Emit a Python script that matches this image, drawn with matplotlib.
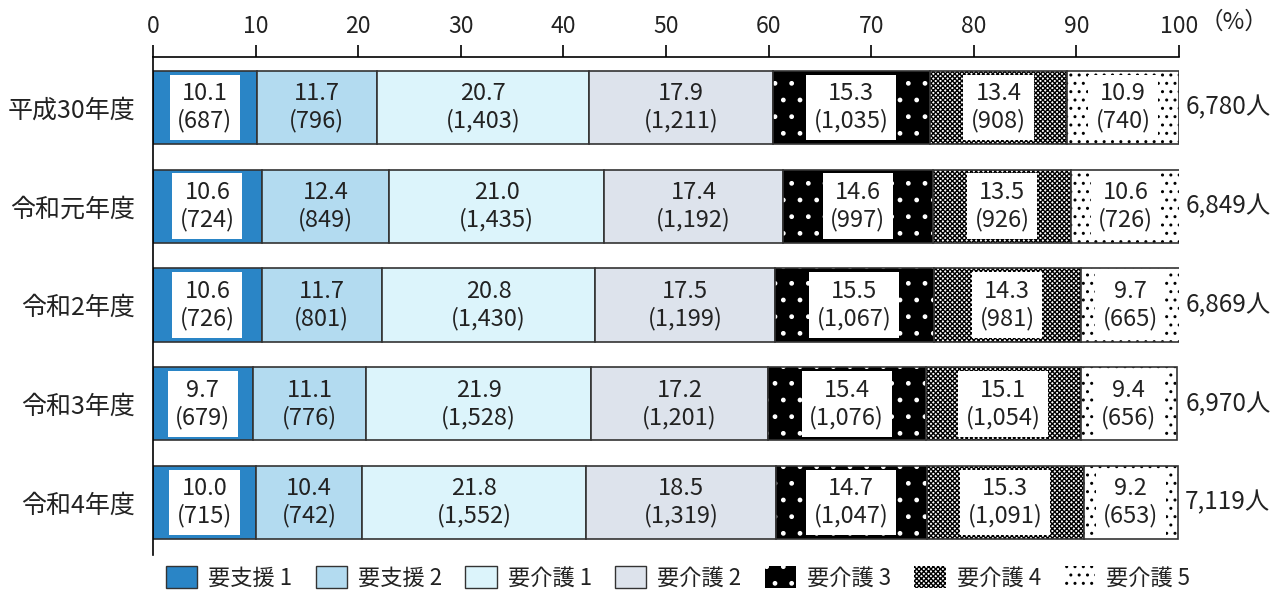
import matplotlib
matplotlib.use("Agg")
import matplotlib.pyplot as plt
from matplotlib.patches import Patch

plt.rcParams['font.family'] = ['Noto Sans CJK JP', 'DejaVu Sans']
plt.rcParams['hatch.linewidth'] = 1.0

years = ["平成30年度", "令和元年度", "令和2年度", "令和3年度", "令和4年度"]
levels = ["要支援 1", "要支援 2", "要介護 1", "要介護 2", "要介護 3", "要介護 4", "要介護 5"]

pct = [
    [10.1, 11.7, 20.7, 17.9, 15.3, 13.4, 10.9],
    [10.6, 12.4, 21.0, 17.4, 14.6, 13.5, 10.6],
    [10.6, 11.7, 20.8, 17.5, 15.5, 14.3, 9.7],
    [9.7, 11.1, 21.9, 17.2, 15.4, 15.1, 9.4],
    [10.0, 10.4, 21.8, 18.5, 14.7, 15.3, 9.2],
]
counts = [
    [687, 796, 1403, 1211, 1035, 908, 740],
    [724, 849, 1435, 1192, 997, 926, 726],
    [726, 801, 1430, 1199, 1067, 981, 665],
    [679, 776, 1528, 1201, 1076, 1054, 656],
    [715, 742, 1552, 1319, 1047, 1091, 653],
]
totals = [6780, 6849, 6869, 6970, 7119]

# fill, hatch colour, hatch pattern, white label box
styles = [
    dict(face="#2a85c6", hcol=None, hatch=None, box=True),
    dict(face="#b3dbf0", hcol=None, hatch=None, box=False),
    dict(face="#dcf4fb", hcol=None, hatch=None, box=False),
    dict(face="#dde3ec", hcol=None, hatch=None, box=False),
    dict(face="black", hcol="white", hatch=".", box=True),
    dict(face="white", hcol="black", hatch="xxxxxxx", box=True),
    dict(face="white", hcol="black", hatch="..", box=True),
]
outline = "#333333"
txt = "#222222"

fig = plt.figure(figsize=(12.87, 5.92), dpi=100)
ax = fig.add_axes([0.1189, 0.0625, 0.9161 - 0.1189, 0.9037 - 0.0625])

bar_h = 0.74
for i, (row_p, row_c) in enumerate(zip(pct, counts)):
    left = 0.0
    for j, (p, c) in enumerate(zip(row_p, row_c)):
        st = styles[j]
        if st["hatch"]:
            ax.barh(i, p, left=left, height=bar_h, color=st["face"],
                    edgecolor=st["hcol"], hatch=st["hatch"], linewidth=0)
            ax.barh(i, p, left=left, height=bar_h, fill=False,
                    edgecolor=outline, linewidth=1.2)
        else:
            ax.barh(i, p, left=left, height=bar_h, color=st["face"],
                    edgecolor=outline, linewidth=1.2)
        label = f"{p:.1f}\n({c:,})"
        kw = dict(ha="center", va="center", fontsize=17, color=txt,
                  linespacing=1.2)
        if st["box"]:
            kw["bbox"] = dict(facecolor="white", edgecolor="none", pad=5.5)
        ax.text(left + p / 2, i, label, **kw)
        left += p
    ax.text(100.6, i, f"{totals[i]:,}人", ha="left", va="center",
            fontsize=17.5, color=txt)

ax.set_xlim(0, 100)
ax.set_ylim(4.53, -0.51)
ax.set_yticks(range(len(years)))
ax.set_yticklabels(years, fontsize=18, color=txt)
ax.tick_params(axis="y", length=0, pad=13)
ax.xaxis.tick_top()
ax.set_xticks(range(0, 101, 10))
ax.tick_params(axis="x", direction="out", length=9, width=1.2,
               labelsize=16.5, labelcolor=txt, pad=5)
for s in ["right", "bottom"]:
    ax.spines[s].set_visible(False)
ax.spines["top"].set_linewidth(1.2)
ax.spines["left"].set_linewidth(1.2)
fig.text(0.932, 0.962, "（%）", ha="left", va="center", fontsize=17,
         color=txt)

handles = []
for lv, st in zip(levels, styles):
    if st["hatch"]:
        handles.append(Patch(facecolor=st["face"], edgecolor=st["hcol"],
                             hatch=st["hatch"], linewidth=0, label=lv))
    else:
        handles.append(Patch(facecolor=st["face"], edgecolor=outline,
                             linewidth=1.0, label=lv))
fig.legend(handles=handles, loc="center", bbox_to_anchor=(0.527, 0.024),
           ncol=7, frameon=False, fontsize=16, handlelength=1.4,
           handleheight=1.1, columnspacing=1.05, handletextpad=0.5,
           labelcolor=txt)

fig.savefig("out.png", dpi=100)
